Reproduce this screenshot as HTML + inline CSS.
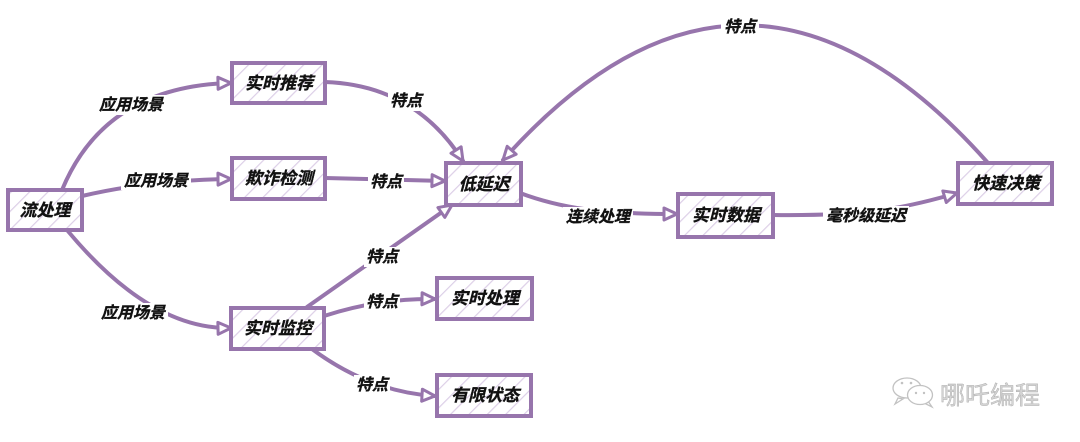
<!DOCTYPE html>
<html>
<head>
<meta charset="utf-8">
<style>
html,body{margin:0;padding:0;background:#fff;}
svg{display:block;}
.t{font-family:"Liberation Sans","Noto Sans CJK SC",sans-serif;font-style:italic;font-weight:bold;font-size:17px;fill:#111;stroke:#111;stroke-width:0.35;}
.l{font-family:"Liberation Sans","Noto Sans CJK SC",sans-serif;font-style:italic;font-weight:bold;font-size:16px;fill:#111;stroke:#111;stroke-width:0.35;}
.e{fill:none;stroke:#9775ac;stroke-width:4;stroke-linecap:round;}
.b{fill:url(#hatch);stroke:#9775ac;stroke-width:4;}
.wm{font-family:"Liberation Sans","Noto Sans CJK SC",sans-serif;font-size:25px;fill:#d4d4d4;stroke:#aaa;stroke-width:0.4;}
</style>
</head>
<body>
<svg width="1080" height="442" viewBox="0 0 1080 442" xmlns="http://www.w3.org/2000/svg">
<defs>
<pattern id="hatch" patternUnits="userSpaceOnUse" width="13" height="13" patternTransform="rotate(45)">
<rect width="13" height="13" fill="#fff"/>
<line x1="0" y1="0" x2="0" y2="13" stroke="#dccfe7" stroke-width="2.4"/>
</pattern>
<marker id="ar" markerUnits="userSpaceOnUse" markerWidth="20" markerHeight="18" refX="15" refY="8" orient="auto">
<path d="M2,2 L15,8 L2,14 Z" fill="#fff" stroke="#9775ac" stroke-width="3" stroke-linejoin="round"/>
</marker>
</defs>

<!-- edges -->
<path class="e" d="M62 190 Q105 86 231 83" marker-end="url(#ar)"/>
<path class="e" d="M82 196 Q150 180 231 179" marker-end="url(#ar)"/>
<path class="e" d="M67 230 Q150 330 231 328" marker-end="url(#ar)"/>
<path class="e" d="M325 82 Q415 85 463 161" marker-end="url(#ar)"/>
<path class="e" d="M325 178 L445 181" marker-end="url(#ar)"/>
<path class="e" d="M307 307 L452 205" marker-end="url(#ar)"/>
<path class="e" d="M520 193 C560 208 600 214 677 214" marker-end="url(#ar)"/>
<path class="e" d="M773 215 C860 216 900 210 957 193" marker-end="url(#ar)"/>
<path class="e" d="M988 163 Q745 -111 503 160" marker-end="url(#ar)"/>
<path class="e" d="M324 316 Q380 298 435 299" marker-end="url(#ar)"/>
<path class="e" d="M312 349 Q370 392 435 396" marker-end="url(#ar)"/>

<!-- edge labels -->
<g>
<rect x="96" y="95" width="70" height="20" fill="#fff"/>
<text class="l" x="131" y="110" text-anchor="middle">应用场景</text>
<rect x="121" y="170" width="70" height="20" fill="#fff"/>
<text class="l" x="156" y="186" text-anchor="middle">应用场景</text>
<rect x="98" y="303" width="70" height="20" fill="#fff"/>
<text class="l" x="133" y="318" text-anchor="middle">应用场景</text>
<rect x="388" y="91" width="36" height="20" fill="#fff"/>
<text class="l" x="406" y="106" text-anchor="middle">特点</text>
<rect x="368" y="171" width="36" height="20" fill="#fff"/>
<text class="l" x="386" y="187" text-anchor="middle">特点</text>
<rect x="364" y="247" width="36" height="20" fill="#fff"/>
<text class="l" x="382" y="262" text-anchor="middle">特点</text>
<rect x="563" y="207" width="70" height="20" fill="#fff"/>
<text class="l" x="598" y="222" text-anchor="middle">连续处理</text>
<rect x="823" y="206" width="86" height="20" fill="#fff"/>
<text class="l" x="866" y="221" text-anchor="middle">毫秒级延迟</text>
<rect x="721" y="17" width="38" height="20" fill="#fff"/>
<text class="l" x="740" y="32" text-anchor="middle">特点</text>
<rect x="364" y="292" width="36" height="20" fill="#fff"/>
<text class="l" x="382" y="307" text-anchor="middle">特点</text>
<rect x="354" y="375" width="36" height="20" fill="#fff"/>
<text class="l" x="372" y="390" text-anchor="middle">特点</text>
</g>

<!-- boxes -->
<rect class="b" x="8" y="190" width="74" height="40"/>
<text class="t" x="45" y="216" text-anchor="middle">流处理</text>
<rect class="b" x="232" y="63" width="93" height="40"/>
<text class="t" x="279" y="89" text-anchor="middle">实时推荐</text>
<rect class="b" x="232" y="158" width="93" height="41"/>
<text class="t" x="279" y="184" text-anchor="middle">欺诈检测</text>
<rect class="b" x="446" y="163" width="75" height="42"/>
<text class="t" x="484" y="190" text-anchor="middle">低延迟</text>
<rect class="b" x="678" y="194" width="95" height="43"/>
<text class="t" x="726" y="221" text-anchor="middle">实时数据</text>
<rect class="b" x="958" y="163" width="94" height="41"/>
<text class="t" x="1006" y="189" text-anchor="middle">快速决策</text>
<rect class="b" x="231" y="308" width="93" height="41"/>
<text class="t" x="278" y="334" text-anchor="middle">实时监控</text>
<rect class="b" x="437" y="278" width="95" height="41"/>
<text class="t" x="485" y="304" text-anchor="middle">实时处理</text>
<rect class="b" x="437" y="375" width="94" height="41"/>
<text class="t" x="485" y="401" text-anchor="middle">有限状态</text>

<!-- watermark -->
<g fill="#fff" stroke="#c2c2c2" stroke-width="1.3">
<path d="M898 398 L895 404 L903 399 Z"/>
<ellipse cx="907" cy="388" rx="14" ry="10"/>
<path d="M928 401 L932 407 L924 403 Z"/>
<ellipse cx="920" cy="395" rx="12.5" ry="9.5"/>
</g>
<g fill="#c2c2c2">
<circle cx="902" cy="383" r="1.3"/><circle cx="911" cy="383" r="1.3"/>
<circle cx="916" cy="393" r="1.2"/><circle cx="924" cy="393" r="1.2"/>
</g>
<text class="wm" x="940" y="404">哪吒编程</text>
</svg>
</body>
</html>
